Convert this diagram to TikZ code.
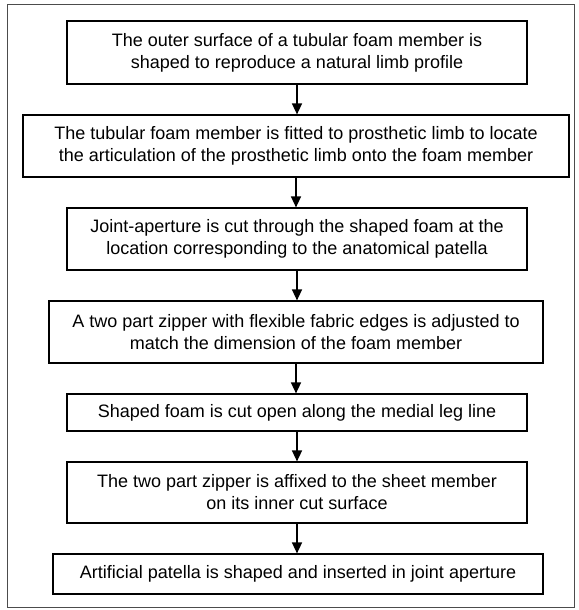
\documentclass[tikz,border=0pt]{standalone}
\usepackage{fontspec}
\setmainfont{Liberation Sans}
\usetikzlibrary{arrows.meta}
\begin{document}
\begin{tikzpicture}[x=1pt, y=-1pt,
    stepbox/.style={draw, line width=1.2pt, inner sep=0pt, align=center,
        font=\fontsize{18}{22}\selectfont},
    flow/.style={line width=1.5pt, -{Triangle[length=11pt, width=10pt]}}]
    \useasboundingbox (0,0) rectangle (578,610);
    % Frame
    \draw[line width=1pt, black!70] (7,5) rectangle (574,607);

    % Steps
    \node[stepbox, minimum width=460pt, minimum height=63pt] (shape) at (297,52.5)
        {The outer surface of a tubular foam member is\\shaped to reproduce a natural limb profile};
    \node[stepbox, minimum width=546pt, minimum height=62pt] (fit) at (296,146)
        {The tubular foam member is fitted to prosthetic limb to locate\\the articulation of the prosthetic limb onto the foam member};
    \node[stepbox, minimum width=460pt, minimum height=62pt] (aperture) at (297,239)
        {Joint-aperture is cut through the shaped foam at the\\location corresponding to the anatomical patella};
    \node[stepbox, minimum width=494pt, minimum height=62pt] (zipper) at (296,332)
        {A two part zipper with flexible fabric edges is adjusted to\\match the dimension of the foam member};
    \node[stepbox, minimum width=460pt, minimum height=37pt] (open) at (297,412.5)
        {Shaped foam is cut open along the medial leg line};
    \node[stepbox, minimum width=460pt, minimum height=61pt] (affix) at (297,492.5)
        {The two part zipper is affixed to the sheet member\\on its inner cut surface};
    \node[stepbox, minimum width=490pt, minimum height=40pt] (patella) at (298,574)
        {Artificial patella is shaped and inserted in joint aperture};

    % Arrows
    \foreach \a/\b in {shape/fit, fit/aperture, aperture/zipper, zipper/open, open/affix, affix/patella} {
        \draw[flow] (\a.south) -- (\a.south |- \b.north);
    }
\end{tikzpicture}
\end{document}
